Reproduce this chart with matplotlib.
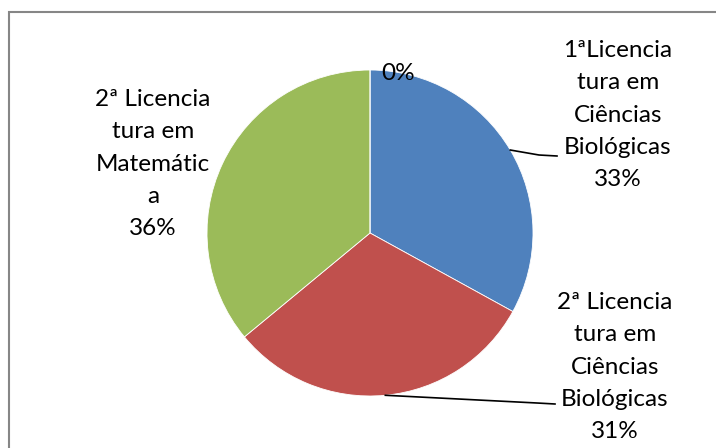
import matplotlib
matplotlib.use("Agg")
import matplotlib.pyplot as plt
import numpy as np
from matplotlib.patches import Rectangle

# Share of students per programme
categories = ["1ªLicencia\ntura em\nCiências\nBiológicas",
              "2ª Licencia\ntura em\nCiências\nBiológicas",
              "2ª Licencia\ntura em\nMatemátic\na",
              ""]
values = [33, 31, 36, 0]
colors = ["#4F81BD", "#C0504D", "#9BBB59", "#8064A2"]

plt.rcParams['font.family'] = ['Lato', 'DejaVu Sans']

W, H = 716, 448
fig = plt.figure(figsize=(W / 100, H / 100), dpi=100)
ax = fig.add_axes([0, 0, 1, 1])

cx, cy, r = 370, 215, 163
wedges, _ = ax.pie(values, colors=colors, startangle=90, counterclock=False,
                   center=(cx, cy), radius=r, frame=True,
                   wedgeprops=dict(edgecolor="white", linewidth=0.6))
ax.set_xlim(0, W)
ax.set_ylim(0, H)
ax.set_aspect("equal")
ax.axis("off")

# chart border (only left/top edges fall inside the canvas)
ax.add_patch(Rectangle((8.5, -20), W + 40, H - 12 + 20, fill=False,
                       edgecolor="#868686", linewidth=1.5))

total = sum(values)
label_pos = [(618, H - 115), (615, H - 367), (153, H - 164), (398, H - 73)]
leader_end = [(557, H - 156), (555, H - 404), None, None]

for w, cat, v, (lx, ly), le in zip(wedges, categories, values, label_pos, leader_end):
    pct = f"{round(100 * v / total)}%"
    txt = f"{cat}\n{pct}" if cat else pct
    ax.text(lx, ly, txt, ha="center", va="center", fontsize=17.5,
            linespacing=1.66, color="black")
    if le is not None:
        mid = np.deg2rad((w.theta1 + w.theta2) / 2)
        px, py = cx + r * np.cos(mid), cy + r * np.sin(mid)
        ax.plot([px, le[0] - 18, le[0]], [py, le[1] + 1, le[1]],
                color="black", linewidth=1.2)

fig.savefig("out.png", dpi=100)
